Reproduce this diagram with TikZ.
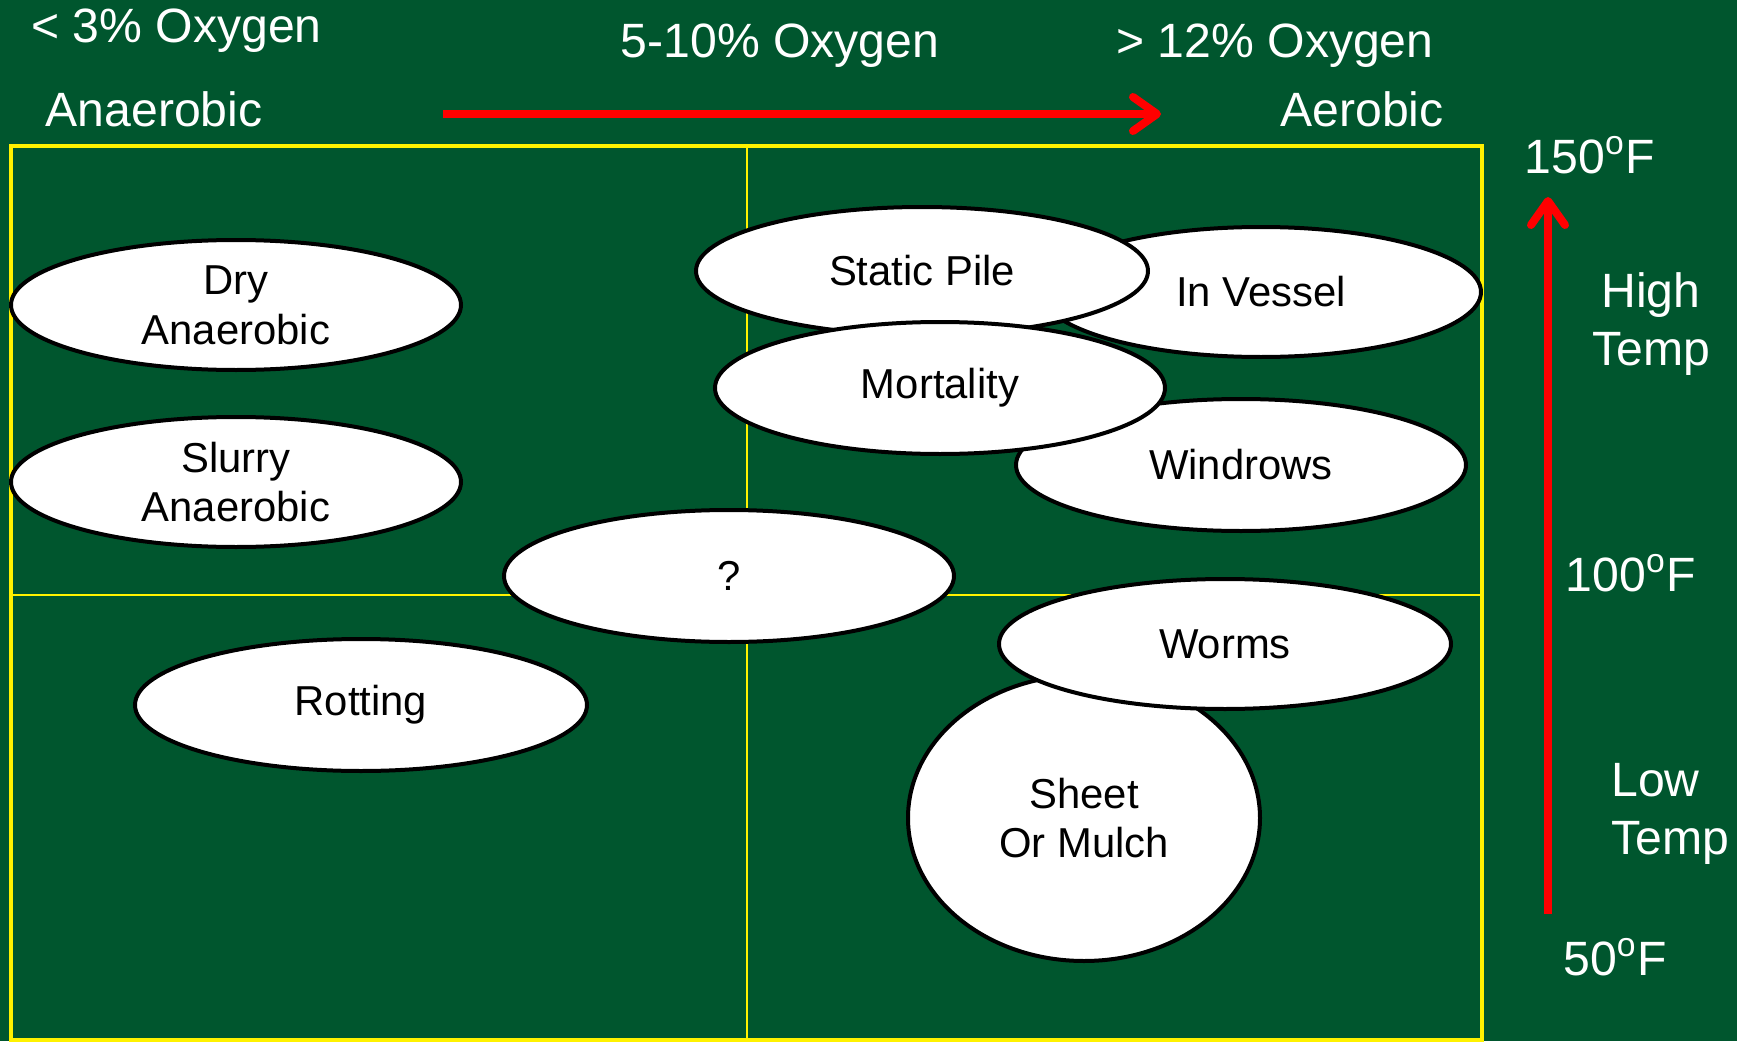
\documentclass[tikz,border=0pt]{standalone}
\usepackage{fontspec}
\setmainfont{Liberation Sans}
\usetikzlibrary{shapes.geometric}
\usetikzlibrary{arrows.meta}
\definecolor{board}{RGB}{0,86,46}

\begin{document}
\begin{tikzpicture}[blob/.style = {ellipse, draw=black, line width=0.04cm, fill=white, inner sep=0pt, align=center, font=\fontsize{11.9}{14.2}\selectfont},
        lab/.style = {text=white, align=center, font=\fontsize{13.7}{16.5}\selectfont},
        redarrow/.style = {draw=red, line width=0.08cm, -{Straight Barb[length=0.24cm, width=0.34cm, round]}}]
        \fill[board] (0,0) rectangle (17.37,10.41);
        \useasboundingbox (0,0) rectangle (17.37,10.41);
        % grid
        \draw[yellow, line width=0.02cm] (7.47,0) -- (7.47,8.95) ;
        \draw[yellow, line width=0.02cm] (0.11,4.46) -- (14.82,4.46) ;
        \draw[yellow, line width=0.045cm] (0.11,0.01) rectangle (14.82,8.95) ;
        % axis labels
        \node[lab, anchor=west] (low) at (0.19,10.10) {< 3\% Oxygen};
        \node[lab] (mid) at (7.80,9.95) {5-10\% Oxygen};
        \node[lab] (high) at (12.75,9.95) {> 12\% Oxygen};
        \node[lab] (anaer) at (1.54,9.32) {Anaerobic};
        \node[lab] (aer) at (13.62,9.32) {Aerobic};
        \node[lab] (t150) at (15.90,8.86) {150\textsuperscript{o}F};
        \node[lab] (hot) at (16.51,7.17) {High\\Temp};
        \node[lab] (t100) at (16.31,4.68) {100\textsuperscript{o}F};
        \node[lab, anchor=west, align=left] (cold) at (15.99,2.27) {Low\\Temp};
        \node[lab] (t50) at (16.15,0.84) {50\textsuperscript{o}F};
        \coordinate (ox1) at (4.43,9.27);
        \coordinate (ox2) at (11.61,9.27);
        \coordinate (tp1) at (15.48,1.27);
        \coordinate (tp2) at (15.48,8.44);
        \draw[redarrow] (ox1) -- (ox2) ;
        \draw[redarrow] (tp1) -- (tp2) ;
        % methods
        \node[blob, minimum width=4.5cm, minimum height=1.3cm] (dry) at (2.36,7.36) {Dry\\Anaerobic};
        \node[blob, minimum width=4.5cm, minimum height=1.3cm] (slurry) at (2.36,5.59) {Slurry\\Anaerobic};
        \node[blob, minimum width=4.52cm, minimum height=1.32cm] (rot) at (3.61,3.36) {Rotting};
        \node[blob, minimum width=4.5cm, minimum height=1.32cm] (quest) at (7.29,4.65) {?};
        \node[blob, minimum width=4.4cm, minimum height=1.3cm] (vessel) at (12.61,7.49) {In Vessel};
        \node[blob, minimum width=4.52cm, minimum height=1.28cm] (static) at (9.22,7.70) {Static Pile};
        \node[blob, minimum width=4.5cm, minimum height=1.32cm] (windrow) at (12.41,5.76) {Windrows};
        \node[blob, minimum width=4.5cm, minimum height=1.32cm] (mort) at (9.40,6.53) {Mortality};
        \node[blob, minimum width=3.52cm, minimum height=2.86cm] (sheet) at (10.84,2.23) {Sheet\\Or Mulch};
        \node[blob, minimum width=4.52cm, minimum height=1.3cm] (worms) at (12.25,3.97) {Worms};
      \end{tikzpicture}
\end{document}
